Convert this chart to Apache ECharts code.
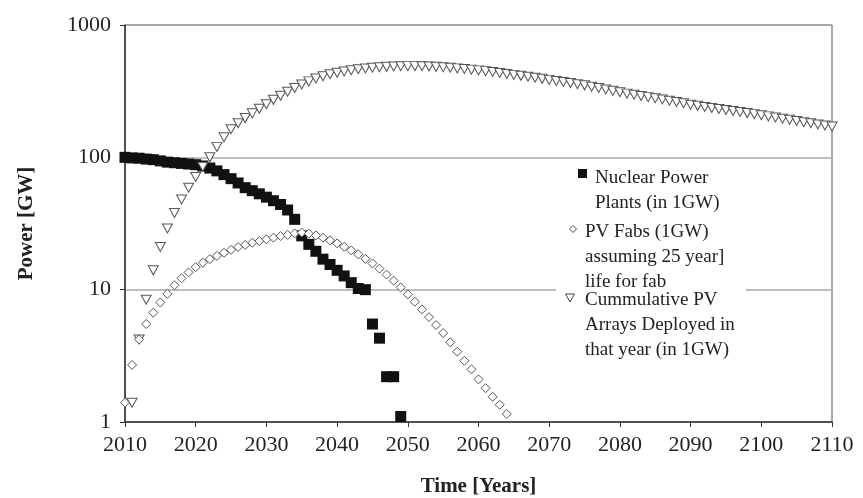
<!DOCTYPE html>
<html><head><meta charset="utf-8">
<script src="https://cdn.jsdelivr.net/npm/echarts@6/dist/echarts.min.js"></script>
<style>html,body{margin:0;padding:0;background:#fff}#c{width:863px;height:498px}</style>
</head><body><div id="c"></div>
<script>
// ---- data ----
const xTickLabels = [2010, 2020, 2030, 2040, 2050, 2060, 2070, 2080, 2090, 2100, 2110];
const yTickLabels = [1, 10, 100, 1000];

const nuclearStartYear = 2010;
const nuclearValues = [100, 99, 98.5, 97, 96, 94, 92, 91, 90, 89,
  88, 86, 83, 79, 74, 69, 64, 59, 56, 53,
  50, 47, 44, 40, 34, 25.5, 22, 19.5, 17, 15.5,
  14, 12.7, 11.3, 10.2, 10, 5.5, 4.3, 2.2, 2.2, 1.1];

const fabStartYear = 2010;
const fabValues = [1.4, 2.7, 4.2, 5.5, 6.7, 8.0, 9.3, 10.8, 12.2, 13.5,
  14.8, 16.0, 17.0, 18.0, 19.0, 20.0, 21.0, 21.8, 22.6, 23.3,
  24.0, 24.7, 25.4, 26.0, 26.6, 27.0, 26.5, 25.7, 24.7, 23.6,
  22.4, 21.1, 19.8, 18.5, 17.1, 15.8, 14.4, 13.0, 11.7, 10.4,
  9.2, 8.1, 7.1, 6.2, 5.4, 4.7, 4.0, 3.4, 2.9, 2.5,
  2.1, 1.8, 1.55, 1.35, 1.15];

const arrayStartYear = 2011;
const arrayValues = [1.4, 4.2, 8.4, 14, 21, 29, 38, 48, 59,
  71, 85, 100, 120, 142, 163, 181, 198, 215, 233,
  252, 272, 292, 313, 334, 355, 375, 394, 410, 424,
  436, 446, 455, 463, 469, 475, 479, 483, 486, 488,
  489, 489, 488, 486, 483, 479, 475, 470, 465, 460,
  454, 448, 441, 434, 427, 420, 413, 406, 399, 392,
  385, 378, 371, 364, 357, 350, 342, 334, 326, 318,
  310, 303, 297, 291, 285, 280, 274, 268, 262, 256,
  250, 245, 240, 236, 232, 228, 224, 220, 216, 212,
  208, 204, 200, 196, 192, 188, 184, 181, 177, 174, 171];

const seriesNames = ['Nuclear Power Plants (in 1GW)',
  'PV Fabs (1GW) assuming 25 year] life for fab',
  'Cummulative PV Arrays Deployed in that year (in 1GW)'];
const legendLabels = ['Nuclear Power\nPlants (in 1GW)',
  'PV Fabs (1GW)\nassuming 25 year]\nlife for fab',
  'Cummulative PV\nArrays Deployed in\nthat year (in 1GW)'];

// ---- chart ----
const FONT = '"Liberation Serif", "Times New Roman", serif';
const pairs = (start, vals) => vals.map((v, i) => [start + i, v]);
const chart = echarts.init(document.getElementById('c'), null, {renderer: 'canvas'});
const triPath = 'path://M0,0L10,0L5,9Z';

chart.setOption({
  animation: false,
  backgroundColor: '#fff',
  grid: {left: 125, right: 31, top: 25, bottom: 76, containLabel: false, outerBoundsMode: 'none',
         show: true, borderColor: '#555', borderWidth: 1, backgroundColor: 'transparent'},
  xAxis: {
    type: 'value',
    min: xTickLabels[0], max: xTickLabels[xTickLabels.length - 1],
    interval: xTickLabels[1] - xTickLabels[0],
    name: 'Time [Years]', nameLocation: 'middle', nameGap: 54,
    nameTextStyle: {fontFamily: FONT, fontSize: 21, fontWeight: 'bold', color: '#222'},
    axisLine: {show: true, lineStyle: {color: '#333', width: 1.5}},
    axisTick: {show: true, inside: false, length: 5, lineStyle: {color: '#333'}},
    axisLabel: {fontFamily: FONT, fontSize: 22, color: '#222', margin: 12,
                formatter: v => String(v)},
    splitLine: {show: false}
  },
  yAxis: {
    type: 'log', logBase: 10,
    min: yTickLabels[0], max: yTickLabels[yTickLabels.length - 1],
    name: 'Power [GW]', nameLocation: 'middle', nameGap: 88, nameRotate: 90,
    nameTextStyle: {fontFamily: FONT, fontSize: 21, fontWeight: 'bold', color: '#222'},
    axisLine: {show: true, lineStyle: {color: '#333', width: 1.5}},
    axisTick: {show: true, inside: false, length: 5, lineStyle: {color: '#333'}},
    axisLabel: {fontFamily: FONT, fontSize: 22, color: '#222', margin: 14,
                formatter: v => String(v)},
    splitLine: {show: true, lineStyle: {color: '#a8a8a8', width: 1.5}}
  },
  series: [
    {
      name: seriesNames[0], type: 'scatter', data: pairs(nuclearStartYear, nuclearValues),
      symbol: 'rect', symbolSize: 11,
      itemStyle: {color: '#111', opacity: 1}
    },
    {
      name: seriesNames[2], type: 'scatter', data: pairs(arrayStartYear, arrayValues),
      symbol: triPath, symbolSize: [10, 9], symbolKeepAspect: false,
      itemStyle: {color: '#fff', borderColor: '#555', borderWidth: 1, opacity: 1}
    },
    {
      name: seriesNames[1], type: 'scatter', data: pairs(fabStartYear, fabValues),
      symbol: 'diamond', symbolSize: 9,
      itemStyle: {color: '#fff', borderColor: '#555', borderWidth: 1, opacity: 1}
    }
  ],
  graphic: [
    {type: 'rect', z: 3, shape: {x: 556, y: 162, width: 190, height: 205}, style: {fill: '#fff'}},
    {type: 'rect', z: 4, shape: {x: 578, y: 169, width: 9, height: 9}, style: {fill: '#111'}},
    {type: 'text', z: 4, x: 595, y: 166, style: {text: legendLabels[0], fontFamily: FONT, fontSize: 19,
      fill: '#222', lineHeight: 25, verticalAlign: 'top', align: 'left'}},
    {type: 'polygon', z: 4, shape: {points: [[573, 225.5], [576.5, 229], [573, 232.5], [569.5, 229]]},
      style: {fill: '#fff', stroke: '#444', lineWidth: 1}},
    {type: 'text', z: 4, x: 585, y: 220, style: {text: legendLabels[1], fontFamily: FONT, fontSize: 19,
      fill: '#222', lineHeight: 25, verticalAlign: 'top', align: 'left'}},
    {type: 'polygon', z: 4, shape: {points: [[565.5, 294], [574.5, 294], [570, 302]]},
      style: {fill: '#fff', stroke: '#444', lineWidth: 1}},
    {type: 'text', z: 4, x: 585, y: 288, style: {text: legendLabels[2], fontFamily: FONT, fontSize: 19,
      fill: '#222', lineHeight: 25, verticalAlign: 'top', align: 'left'}}
  ]
});
</script>
</body></html>
